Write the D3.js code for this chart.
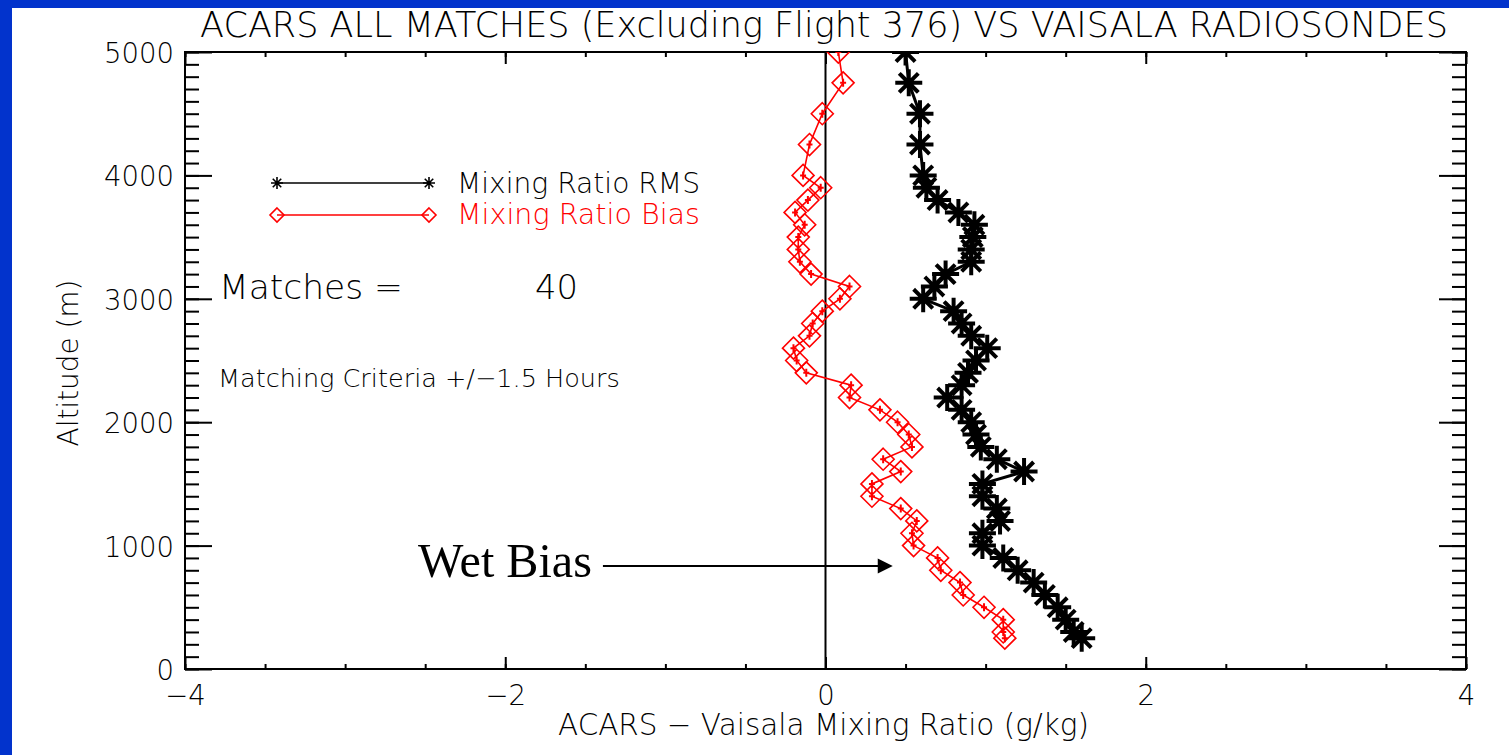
<!DOCTYPE html>
<html>
<head>
<meta charset="utf-8">
<script src="https://cdn.jsdelivr.net/npm/d3@7/dist/d3.min.js"></script>
<style>
  body { margin: 0; background: #ffffff; }
  svg { display: block; }
  text { font-family: "DejaVu Sans", "Liberation Sans", sans-serif; font-weight: 200; }
</style>
</head>
<body>
<div id="chart"></div>
<script>
// altitude levels (m) and the two profiles (g/kg)
var altitude = [5000, 4750, 4500, 4250, 4000, 3900, 3800, 3700, 3600, 3500, 3400, 3300, 3200, 3100, 3000,
                2900, 2800, 2700, 2600, 2500, 2400, 2300, 2200, 2100, 2000, 1900, 1800, 1700, 1600, 1500,
                1400, 1300, 1200, 1100, 1000, 900, 800, 700, 600, 500, 400, 300, 250];
var rmsValues = [0.50, 0.52, 0.59, 0.59, 0.61, 0.63, 0.70, 0.83, 0.93, 0.92, 0.91, 0.91, 0.75, 0.68, 0.61,
                 0.80, 0.85, 0.91, 1.01, 0.94, 0.89, 0.85, 0.76, 0.85, 0.91, 0.94, 0.97, 1.07, 1.24, 0.98,
                 0.98, 1.07, 1.09, 0.98, 0.98, 1.11, 1.20, 1.30, 1.37, 1.45, 1.50, 1.55, 1.60];
var biasValues = [0.08, 0.11, -0.02, -0.10, -0.14, -0.03, -0.11, -0.19, -0.13, -0.17, -0.17, -0.16, -0.09, 0.15, 0.09,
                  -0.02, -0.08, -0.10, -0.20, -0.18, -0.12, 0.16, 0.15, 0.34, 0.45, 0.52, 0.54, 0.36, 0.47, 0.29,
                  0.29, 0.47, 0.57, 0.54, 0.55, 0.70, 0.72, 0.84, 0.86, 0.99, 1.11, 1.11, 1.12];

var xMajorTicks = [-4, -2, 0, 2, 4];
var yMajorTicks = [0, 1000, 2000, 3000, 4000, 5000];
var seriesNames = ["Mixing Ratio RMS", "Mixing Ratio Bias"];
var matchCount = 40;

var W = 1509, H = 755;
var margin = {top: 52, right: 43, bottom: 86, left: 185};
var width = W - margin.left - margin.right,
    height = H - margin.top - margin.bottom;

var svg = d3.select("#chart").append("svg")
    .attr("width", W)
    .attr("height", H);

svg.append("rect").attr("width", W).attr("height", H).attr("fill", "#ffffff");
// blue slide border (top and left only)
svg.append("rect").attr("x", 0).attr("y", 0).attr("width", W).attr("height", 8).attr("fill", "#0233cc");
svg.append("rect").attr("x", 0).attr("y", 0).attr("width", 12).attr("height", H).attr("fill", "#0233cc");

var g = svg.append("g").attr("transform", "translate(" + margin.left + "," + margin.top + ")");

var x = d3.scaleLinear().domain([-4, 4]).range([0, width]);
var y = d3.scaleLinear().domain([0, 5000]).range([height, 0]);

function fitWidth(sel, w) {
    sel.each(function() {
        var base = parseFloat(this.getAttribute("font-size"));
        var len = this.getComputedTextLength();
        if (len > 0) this.setAttribute("font-size", (base * w / len).toFixed(2));
    });
}

// axes, IDL style: ticks on all four sides, labels on left and bottom
var xMinor = d3.range(-4, 4.001, 0.5);
var yMinor = d3.range(0, 5001, 100);

g.append("g").attr("transform", "translate(0," + height + ")")
    .call(d3.axisBottom(x).tickValues(xMinor).tickSize(-5).tickFormat(""))
    .call(function(a) { a.select(".domain").remove(); });
g.append("g").attr("transform", "translate(0," + height + ")")
    .attr("class", "xlab")
    .call(d3.axisBottom(x).tickValues(xMajorTicks).tickSize(-12)
        .tickFormat(function(d) { return d < 0 ? "\u2212" + Math.abs(d) : d; }))
    .call(function(a) { a.select(".domain").remove(); });
g.append("g")
    .call(d3.axisTop(x).tickValues(xMinor).tickSize(-5).tickFormat(""))
    .call(function(a) { a.select(".domain").remove(); });
g.append("g")
    .call(d3.axisTop(x).tickValues(xMajorTicks).tickSize(-12).tickFormat(""))
    .call(function(a) { a.select(".domain").remove(); });

g.append("g")
    .call(d3.axisLeft(y).tickValues(yMinor).tickSize(-14).tickFormat(""))
    .call(function(a) { a.select(".domain").remove(); });
g.append("g")
    .attr("class", "ylab")
    .call(d3.axisLeft(y).tickValues(yMajorTicks).tickSize(-27).tickPadding(11).tickFormat(d3.format("d")))
    .call(function(a) { a.select(".domain").remove(); });
g.append("g").attr("transform", "translate(" + width + ",0)")
    .call(d3.axisRight(y).tickValues(yMinor).tickSize(-14).tickFormat(""))
    .call(function(a) { a.select(".domain").remove(); });
g.append("g").attr("transform", "translate(" + width + ",0)")
    .call(d3.axisRight(y).tickValues(yMajorTicks).tickSize(-27).tickFormat(""))
    .call(function(a) { a.select(".domain").remove(); });

g.selectAll(".tick line").attr("stroke", "#000").attr("stroke-width", 2);
g.selectAll(".tick text").attr("fill", "#000").attr("font-family", null).attr("font-size", 26);

// tick label placement: x labels baseline ~36px under the axis, y labels centred on tick
g.selectAll(".xlab .tick text").attr("dy", null).attr("y", 36);
g.selectAll(".ylab .tick text").attr("dy", "0.38em");
var top5000 = g.selectAll(".ylab .tick text").filter(function(d) { return d === 5000; });
fitWidth(top5000, 70);
g.selectAll(".tick text").attr("font-size", top5000.attr("font-size"));

// frame
g.append("rect").attr("width", width).attr("height", height)
    .attr("fill", "none").attr("stroke", "#000").attr("stroke-width", 2);

// zero line
g.append("line")
    .attr("x1", x(0)).attr("x2", x(0)).attr("y1", y(0)).attr("y2", y(5000))
    .attr("stroke", "#000").attr("stroke-width", 2);

// clip to plot area
svg.append("defs").append("clipPath").attr("id", "plotclip")
    .append("rect").attr("width", width).attr("height", height);
var plot = g.append("g").attr("clip-path", "url(#plotclip)");

function asteriskPath(r) {
    var d = r * Math.SQRT1_2;
    return "M0," + (-r) + "L0," + r + "M" + (-r) + ",0L" + r + ",0" +
           "M" + (-d) + "," + (-d) + "L" + d + "," + d + "M" + (-d) + "," + d + "L" + d + "," + (-d);
}
function diamondPath(r) {
    return "M0," + (-r) + "L" + r + ",0L0," + r + "L" + (-r) + ",0Z";
}

var rmsData = altitude.map(function(a, i) { return {alt: a, v: rmsValues[i]}; });
var biasData = altitude.map(function(a, i) { return {alt: a, v: biasValues[i]}; });

var line = d3.line().x(function(d) { return x(d.v); }).y(function(d) { return y(d.alt); });

// bias (red diamonds)
plot.append("path").datum(biasData).attr("d", line)
    .attr("fill", "none").attr("stroke", "#ff0000").attr("stroke-width", 1.6);
plot.selectAll(".bias").data(biasData).enter().append("path")
    .attr("class", "bias")
    .attr("transform", function(d) { return "translate(" + x(d.v) + "," + y(d.alt) + ")"; })
    .attr("d", diamondPath(11))
    .attr("fill", "none").attr("stroke", "#ff0000").attr("stroke-width", 1.6);
plot.selectAll(".biasc").data(biasData).enter().append("path")
    .attr("class", "biasc")
    .attr("transform", function(d) { return "translate(" + x(d.v) + "," + y(d.alt) + ")"; })
    .attr("d", "M0,-4L0,4M-3,0L3,0")
    .attr("stroke", "#ff0000").attr("stroke-width", 2);

// rms (black asterisks)
plot.append("path").datum(rmsData).attr("d", line)
    .attr("fill", "none").attr("stroke", "#000").attr("stroke-width", 3);
plot.selectAll(".rms").data(rmsData).enter().append("path")
    .attr("class", "rms")
    .attr("transform", function(d) { return "translate(" + x(d.v) + "," + y(d.alt) + ")"; })
    .attr("d", asteriskPath(11.5))
    .attr("fill", "none").attr("stroke", "#000").attr("stroke-width", 4)
    .attr("stroke-linecap", "square");

// legend
var legend = [
    {name: seriesNames[0], color: "#000000", sym: asteriskPath(6), ly: 183, ty: 193},
    {name: seriesNames[1], color: "#ff0000", sym: diamondPath(7), ly: 215, ty: 224}
];
legend.forEach(function(l) {
    svg.append("line").attr("x1", 277).attr("x2", 429).attr("y1", l.ly).attr("y2", l.ly)
        .attr("stroke", l.color).attr("stroke-width", 1.6);
    [277, 429].forEach(function(px) {
        svg.append("path").attr("transform", "translate(" + px + "," + l.ly + ")")
            .attr("d", l.sym).attr("fill", "none").attr("stroke", l.color).attr("stroke-width", 1.6);
    });
    svg.append("text").attr("x", 457).attr("y", l.ty).attr("font-size", 24)
        .attr("fill", l.color).text(l.name)
        .call(fitWidth, 243);
});

svg.append("text").attr("x", 219).attr("y", 299).attr("font-size", 28)
    .text("Matches =").call(fitWidth, 184);
svg.append("text").attr("x", 535).attr("y", 299).attr("font-size", 28)
    .text(matchCount).call(fitWidth, 43);
svg.append("text").attr("x", 218).attr("y", 387).attr("font-size", 22)
    .text("Matching Criteria +/\u22121.5 Hours").call(fitWidth, 402);

// title and axis titles
svg.append("text").attr("x", 824).attr("y", 37).attr("text-anchor", "middle").attr("font-size", 30)
    .text("ACARS ALL MATCHES (Excluding Flight 376) VS VAISALA RADIOSONDES").call(fitWidth, 1248);
svg.append("text").attr("x", 823.5).attr("y", 735).attr("text-anchor", "middle").attr("font-size", 26)
    .text("ACARS \u2212 Vaisala Mixing Ratio (g/kg)").call(fitWidth, 531);
svg.append("text").attr("transform", "translate(78,363)rotate(-90)").attr("text-anchor", "middle")
    .attr("font-size", 28).text("Altitude (m)").call(fitWidth, 167);

// "Wet Bias" annotation, arrow in data units
var arrowAlt = 835, arrowFrom = -1.39, arrowTo = 0.42;
svg.append("text").attr("x", 418).attr("y", 577).attr("font-size", 47)
    .style("font-family", "'Liberation Serif', 'Times New Roman', serif").style("font-weight", 400)
    .text("Wet Bias").call(fitWidth, 174);
g.append("line")
    .attr("x1", x(arrowFrom)).attr("x2", x(arrowTo) - 14)
    .attr("y1", y(arrowAlt)).attr("y2", y(arrowAlt))
    .attr("stroke", "#000").attr("stroke-width", 2);
g.append("path")
    .attr("d", "M" + x(arrowTo) + "," + y(arrowAlt) + "L" + (x(arrowTo) - 15) + "," + (y(arrowAlt) - 7.5) +
               "L" + (x(arrowTo) - 15) + "," + (y(arrowAlt) + 7.5) + "Z")
    .attr("fill", "#000");
</script>
</body>
</html>
